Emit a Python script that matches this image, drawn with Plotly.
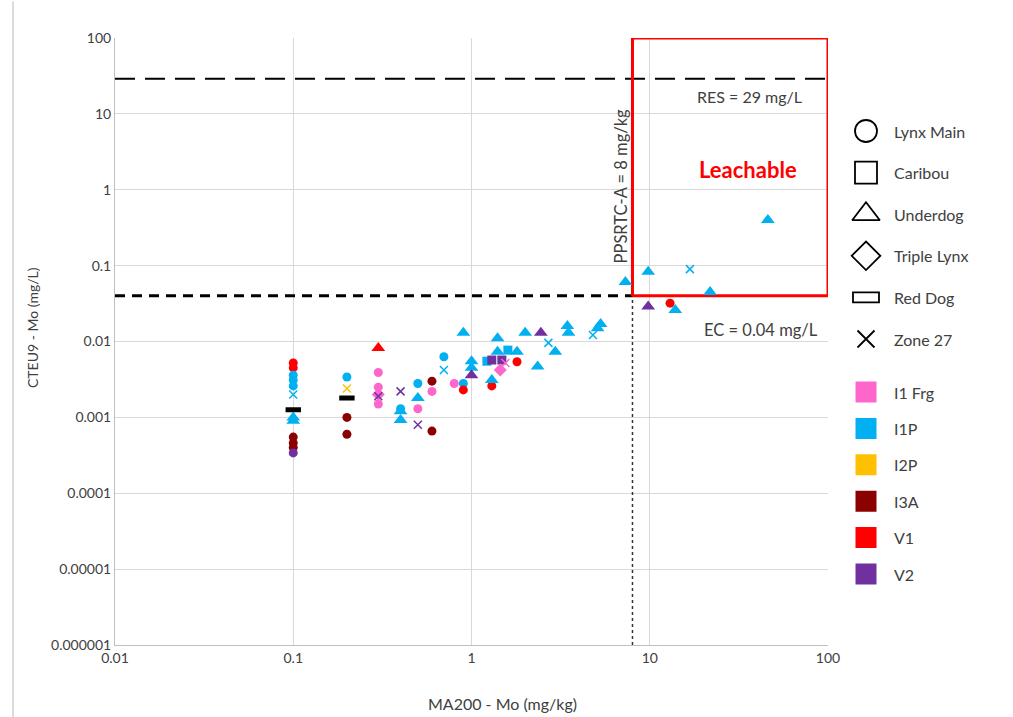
import math
import plotly.graph_objects as go

# ---------------- data ----------------
lith_names = ["I1 Frg", "I1P", "I2P", "I3A", "V1", "V2"]
lith_colors = ["#FF66CC", "#00B0F0", "#FFC000", "#8B0000", "#FF0000", "#7030A0"]
COL = dict(zip(lith_names, lith_colors))

deposit_names = ["Lynx Main", "Caribou", "Underdog", "Triple Lynx", "Red Dog", "Zone 27"]

lynx_x = [0.1, 0.1, 0.1, 0.1, 0.1, 0.1, 0.1, 0.1, 0.1,
          0.2, 0.2, 0.2, 0.3, 0.3, 0.3, 0.4, 0.5, 0.5,
          0.6, 0.6, 0.6, 0.7, 0.8, 0.9, 0.9, 1.3, 1.8, 13]
lynx_y = [0.0052, 0.0045, 0.0036, 0.0031, 0.0026, 0.00055, 0.00046, 0.0004, 0.00034,
          0.0034, 0.001, 0.0006, 0.0039, 0.0025, 0.0015, 0.0013, 0.0028, 0.0013,
          0.003, 0.0022, 0.00066, 0.0063, 0.0028, 0.0028, 0.0023, 0.0026, 0.0054, 0.032]
lynx_l = ["V1", "V1", "I1P", "I1P", "I1P", "I3A", "I3A", "I3A", "V2",
          "I1P", "I3A", "I3A", "I1 Frg", "I1 Frg", "I1 Frg", "I1P", "I1P", "I1 Frg",
          "I3A", "I1 Frg", "I3A", "I1P", "I1 Frg", "I1P", "V1", "V1", "V1", "V1"]

caribou_x = [1.22, 1.3, 1.48, 1.6]
caribou_y = [0.0055, 0.0057, 0.0057, 0.0077]
caribou_l = ["I1P", "V2", "V2", "I1P"]

under_x = [0.1, 0.1, 0.3, 0.4, 0.4, 0.5, 0.9, 1.0, 1.0, 1.0, 1.3, 1.4, 1.4, 1.8,
           2.0, 2.35, 2.45, 2.95, 3.45, 3.5, 5.1, 5.3, 7.3, 9.8, 9.8, 13.9, 21.8, 46]
under_y = [0.001, 0.0009, 0.0082, 0.0012, 0.00092, 0.0018, 0.013, 0.0055, 0.0045, 0.0036,
           0.0031, 0.011, 0.0073, 0.0073, 0.013, 0.0047, 0.013, 0.0073, 0.016, 0.013,
           0.015, 0.017, 0.061, 0.083, 0.029, 0.026, 0.045, 0.40]
under_l = ["I1P", "I1P", "V1", "I1P", "I1P", "I1P", "I1P", "I1P", "I1P", "V2",
           "I1P", "I1P", "I1P", "I1P", "I1P", "I1P", "V2", "I1P", "I1P", "I1P",
           "I1P", "I1P", "I1P", "I1P", "V2", "I1P", "I1P", "I1P"]

triple_x = [0.3, 1.45]
triple_y = [0.002, 0.0042]
triple_l = ["I1 Frg", "I1 Frg"]

reddog_x = [0.1, 0.2]
reddog_y = [0.00126, 0.0018]

zone_x = [0.1, 0.2, 0.3, 0.4, 0.5, 0.7, 1.55, 2.7, 4.8, 16.8]
zone_y = [0.002, 0.0024, 0.0019, 0.0022, 0.0008, 0.0042, 0.0052, 0.0096, 0.0122, 0.09]
zone_l = ["I1P", "I2P", "V2", "V2", "V2", "I1P", "I1 Frg", "I1P", "I1P", "I1P"]

RES = 29.0
EC = 0.04
PPSRTC = 8.0

x_ticks = [0.01, 0.1, 1, 10, 100]
x_ticktext = ["0.01", "0.1", "1", "10", "100"]
y_ticks = [1e-6, 1e-5, 1e-4, 1e-3, 1e-2, 0.1, 1, 10, 100]
y_ticktext = ["0.000001", "0.00001", "0.0001", "0.001", "0.01", "0.1", "1", "10", "100"]

FONT = "Lato, 'Open Sans', sans-serif"
TXT = "#404040"
PW = 898.0  # paper width in px (1013 - left margin 115)

fig = go.Figure()

# reference lines (as traces so log scaling is handled by the axes)
fig.add_trace(go.Scatter(x=[0.01, 100], y=[RES, RES], mode="lines",
                         line=dict(color="black", width=2, dash="20px,10px"),
                         hoverinfo="skip", showlegend=False))
fig.add_trace(go.Scatter(x=[0.01, PPSRTC], y=[EC, EC], mode="lines",
                         line=dict(color="black", width=3, dash="10px,7px"),
                         hoverinfo="skip", showlegend=False))
fig.add_trace(go.Scatter(x=[PPSRTC, 100], y=[EC, EC], mode="lines",
                         line=dict(color="#bfbfbf", width=1.5, dash="10px,7px"),
                         hoverinfo="skip", showlegend=False))
fig.add_trace(go.Scatter(x=[PPSRTC, PPSRTC], y=[1e-6, 100], mode="lines",
                         line=dict(color="#333333", width=1.5, dash="dot"),
                         hoverinfo="skip", showlegend=False))
fig.add_trace(go.Scatter(x=[PPSRTC, 100, 100, PPSRTC, PPSRTC], y=[EC, EC, 100, 100, EC],
                         mode="lines", line=dict(color="#FF0000", width=3),
                         hoverinfo="skip", showlegend=False))


def cols(ls):
    return [COL[v] for v in ls]


fig.add_trace(go.Scatter(x=lynx_x, y=lynx_y, mode="markers", showlegend=False,
                         marker=dict(symbol="circle", size=9, color=cols(lynx_l))))
fig.add_trace(go.Scatter(x=caribou_x, y=caribou_y, mode="markers", showlegend=False,
                         marker=dict(symbol="square", size=9, color=cols(caribou_l))))
fig.add_trace(go.Scatter(x=triple_x, y=triple_y, mode="markers", showlegend=False,
                         marker=dict(symbol="diamond", size=10, color=cols(triple_l))))
fig.add_trace(go.Scatter(x=under_x, y=under_y, mode="markers", showlegend=False,
                         marker=dict(symbol="triangle-up", size=12, color=cols(under_l))))
fig.add_trace(go.Scatter(x=reddog_x, y=reddog_y, mode="markers", showlegend=False,
                         marker=dict(symbol="line-ew", size=11,
                                     line=dict(color="black", width=5))))
fig.add_trace(go.Scatter(x=zone_x, y=zone_y, mode="markers", showlegend=False,
                         marker=dict(symbol="x-thin", size=8,
                                     line=dict(color=cols(zone_l), width=1.5))))

# ---------------- custom legend (own axes) ----------------
shape_syms = ["circle-open", "square-open", "triangle-up-open", "diamond-open", None, "x-thin-open"]
shape_sizes = [22, 22, 24, 22, 0, 17]
shape_y = [131 + 41.6 * i for i in range(len(deposit_names))]
col_y = [392 + 36.4 * i for i in range(len(lith_names))]
LX_SYM = 866
LX_TXT = 892
LEG_FONT = dict(size=16, color=TXT, family=FONT)

for name, sym, sz, yy in zip(deposit_names, shape_syms, shape_sizes, shape_y):
    if sym is not None:
        fig.add_trace(go.Scatter(x=[LX_SYM], y=[yy], mode="markers", xaxis="x2", yaxis="y2",
                                 showlegend=False, hoverinfo="skip",
                                 marker=dict(symbol=sym, size=sz, color="black",
                                             line=dict(color="black", width=1.8))))
    else:
        fig.add_shape(type="rect", xref="x2", yref="y2", x0=LX_SYM - 13, x1=LX_SYM + 13,
                      y0=yy - 5, y1=yy + 5, line=dict(color="black", width=1.8))
    fig.add_annotation(xref="x2", yref="y2", x=LX_TXT, y=yy, text=name, showarrow=False,
                       xanchor="left", yanchor="middle", font=LEG_FONT)

for name, c, yy in zip(lith_names, lith_colors, col_y):
    fig.add_trace(go.Scatter(x=[LX_SYM], y=[yy], mode="markers", xaxis="x2", yaxis="y2",
                             showlegend=False, hoverinfo="skip",
                             marker=dict(symbol="square", size=21, color=c)))
    fig.add_annotation(xref="x2", yref="y2", x=LX_TXT, y=yy, text=name, showarrow=False,
                       xanchor="left", yanchor="middle", font=LEG_FONT)

# ---------------- annotations ----------------
fig.add_annotation(x=1.562, y=1.223, xref="x", yref="y", text="RES = 29 mg/L",
                   showarrow=False, font=dict(size=16, color=TXT, family=FONT))
fig.add_annotation(x=1.625, y=-1.847, xref="x", yref="y", text="EC = 0.04 mg/L",
                   showarrow=False, font=dict(size=16.5, color=TXT, family=FONT))
fig.add_annotation(x=1.551, y=0.261, xref="x", yref="y", text="<b>Leachable</b>",
                   showarrow=False, font=dict(size=22, color="#FF0000", family=FONT))
fig.add_annotation(x=math.log10(PPSRTC), y=0.05, xref="x", yref="y",
                   text="PPSRTC-A = 8 mg/kg", textangle=-90, showarrow=False,
                   xshift=-12, font=dict(size=16.5, color=TXT, family=FONT))

# axis titles
fig.add_annotation(xref="paper", yref="paper", x=(502 - 115) / PW, y=-(703 - 645) / 607,
                   text="MA200 - Mo (mg/kg)", showarrow=False, xanchor="center",
                   yanchor="middle", font=dict(size=16, color=TXT, family=FONT))
fig.add_annotation(xref="paper", yref="paper", x=-(115 - 32) / PW, y=(645 - 328) / 607,
                   text="CTEU9 - Mo (mg/L)", textangle=-90, showarrow=False,
                   xanchor="center", yanchor="middle", font=dict(size=14, color=TXT, family=FONT))

# outer frame line at left
fig.add_shape(type="line", xref="paper", yref="paper", x0=-102 / PW, x1=-102 / PW,
              y0=-0.12, y1=1.06, line=dict(color="#d0d0d0", width=1.5))

fig.update_layout(
    width=1013, height=717, autosize=False,
    margin=dict(l=115, r=0, t=38, b=72, autoexpand=False),
    paper_bgcolor="white", plot_bgcolor="white",
    font=dict(family=FONT, size=14, color=TXT),
    showlegend=False,
    xaxis=dict(type="log", range=[-2, 2], domain=[0, 713 / PW], automargin=False,
               tickvals=x_ticks, ticktext=x_ticktext,
               showgrid=True, gridcolor="#d9d9d9", gridwidth=1,
               showline=True, linecolor="#bfbfbf", linewidth=1,
               ticks="", zeroline=False,
               tickfont=dict(size=14, color=TXT, family=FONT)),
    yaxis=dict(type="log", range=[-6, 2], automargin=False,
               tickvals=y_ticks, ticktext=y_ticktext,
               showgrid=True, gridcolor="#d9d9d9", gridwidth=1,
               showline=True, linecolor="#bfbfbf", linewidth=1,
               ticks="", zeroline=False,
               tickfont=dict(size=14, color=TXT, family=FONT)),
    xaxis2=dict(domain=[718.4 / PW, 1.0], range=[833.4, 1013], visible=False,
                anchor="y2", fixedrange=True, automargin=False),
    yaxis2=dict(domain=[0, 1], range=[645, 38], visible=False, anchor="x2",
                fixedrange=True, automargin=False),
)

fig.write_html("out.html")
